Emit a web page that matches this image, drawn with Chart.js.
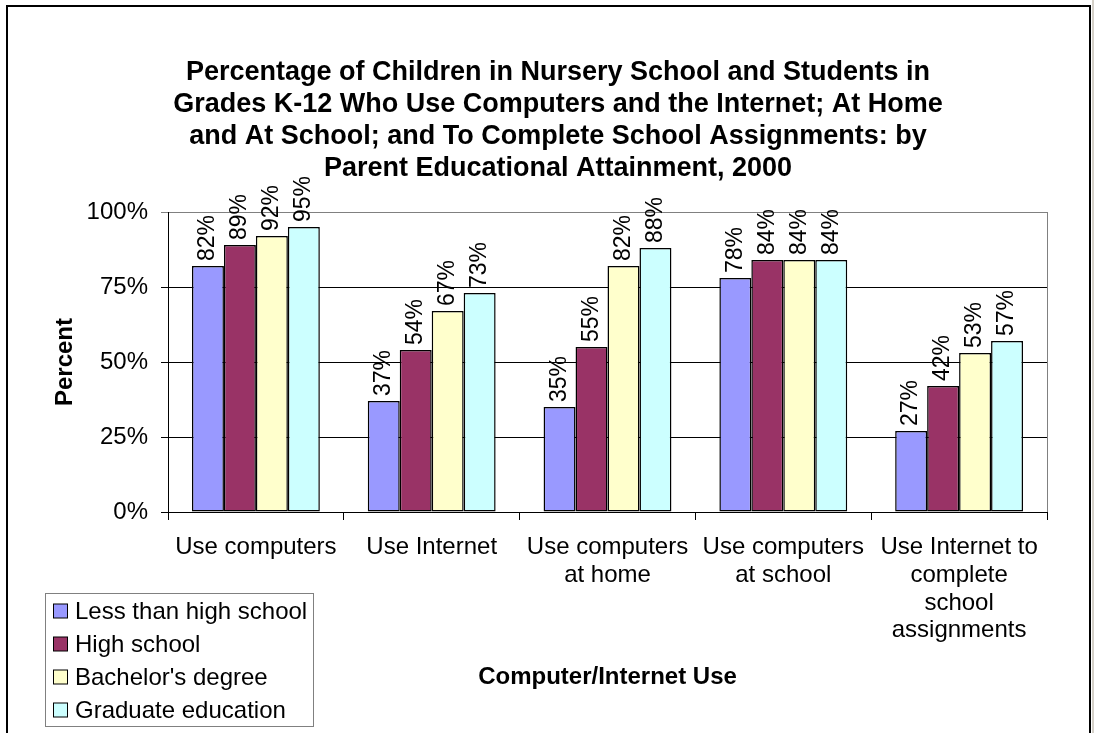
<!DOCTYPE html>
<html>
<head>
<meta charset="utf-8">
<title>Computer and Internet use by parent education, 2000</title>
<script src="https://cdn.jsdelivr.net/npm/chart.js@4.4.0/dist/chart.umd.min.js"></script>
<style>
  html, body { margin: 0; padding: 0; background: #fff; overflow: hidden; }
  #wrap { width: 1094px; height: 733px; position: relative; }
</style>
</head>
<body>
<div id="wrap"><canvas id="myChart"></canvas></div>
<script>
// data
const categories = [
  ["Use computers"],
  ["Use Internet"],
  ["Use computers", "at home"],
  ["Use computers", "at school"],
  ["Use Internet to", "complete", "school", "assignments"],
];
const seriesNames = ["Less than high school", "High school", "Bachelor's degree", "Graduate education"];
const lessThanHighSchool = [82, 37, 35, 78, 27];
const highSchool = [89, 54, 55, 84, 42];
const bachelorsDegree = [92, 67, 82, 84, 53];
const graduateEducation = [95, 73, 88, 84, 57];
const yTicks = [0, 25, 50, 75, 100];
const titleLines = [
  "Percentage of Children in Nursery School and Students in",
  "Grades K-12 Who Use Computers and the Internet; At Home",
  "and At School; and To Complete School Assignments: by",
  "Parent Educational Attainment, 2000",
];
const xTitle = "Computer/Internet Use";
const yTitle = "Percent";

const FONT = "'Liberation Sans', Arial, sans-serif";
const barColors = ["#9999FF", "#993366", "#FFFFCC", "#CCFFFF"];

// white page, black frame round the chart like the sheet it came from
const framePlugin = {
  id: "frame",
  beforeDraw(chart) {
    const ctx = chart.ctx;
    ctx.save();
    ctx.fillStyle = "#fff";
    ctx.fillRect(0, 0, chart.width, chart.height);
    ctx.fillStyle = "#d4d0c8";
    ctx.fillRect(1092, 0, 2, chart.height);
    ctx.strokeStyle = "#000";
    ctx.lineWidth = 2;
    ctx.strokeRect(7, 6, 1083, 740);
    ctx.restore();
  },
  afterDatasetsDraw(chart) {
    // gray right edge of plot area
    const a = chart.chartArea;
    const ctx = chart.ctx;
    ctx.save();
    ctx.strokeStyle = "#808080";
    ctx.lineWidth = 1;
    ctx.beginPath();
    ctx.moveTo(Math.round(a.right) + 0.5, a.top);
    ctx.lineTo(Math.round(a.right) + 0.5, a.bottom);
    ctx.stroke();
    ctx.restore();
  },
};

// rotated value labels above the bars
const valueLabels = {
  id: "valueLabels",
  afterDatasetsDraw(chart) {
    const ctx = chart.ctx;
    ctx.save();
    ctx.fillStyle = "#000";
    ctx.font = "23px " + FONT;
    ctx.textAlign = "left";
    ctx.textBaseline = "middle";
    chart.data.datasets.forEach((ds, i) => {
      chart.getDatasetMeta(i).data.forEach((bar, j) => {
        ctx.save();
        ctx.translate(bar.x, bar.y - 5);
        ctx.rotate(-Math.PI / 2);
        ctx.fillText(ds.data[j] + "%", 0, 0);
        ctx.restore();
      });
    });
    ctx.restore();
  },
};

// legend box in the lower left corner
const boxLegend = {
  id: "boxLegend",
  afterDraw(chart) {
    const ctx = chart.ctx;
    const left = 45.5, top = 593.5, w = 268, h = 133;
    ctx.save();
    ctx.fillStyle = "#fff";
    ctx.fillRect(left, top, w, h);
    ctx.strokeStyle = "#808080";
    ctx.lineWidth = 1;
    ctx.strokeRect(left, top, w, h);
    ctx.font = "24px " + FONT;
    ctx.textBaseline = "middle";
    ctx.textAlign = "left";
    chart.data.datasets.forEach((ds, i) => {
      const cy = 611 + i * 33;
      ctx.fillStyle = ds.backgroundColor;
      ctx.fillRect(53.5, cy - 7, 14, 14);
      ctx.strokeStyle = "#000";
      ctx.strokeRect(53.5, cy - 7, 14, 14);
      ctx.fillStyle = "#000";
      ctx.fillText(ds.label, 75, cy + 1);
    });
    ctx.restore();
  },
};

const seriesData = [lessThanHighSchool, highSchool, bachelorsDegree, graduateEducation];

const myChart = new Chart(document.getElementById("myChart"), {
  type: "bar",
  data: {
    labels: categories,
    datasets: seriesNames.map((name, i) => ({
      label: name,
      data: seriesData[i],
      backgroundColor: barColors[i],
      borderColor: "#000",
      borderWidth: 1.5,
      borderSkipped: false,
      barPercentage: 1,
      categoryPercentage: 0.7273,
    })),
  },
  options: {
    responsive: true,
    maintainAspectRatio: false,
    animation: false,
    events: [],
    layout: { padding: { top: 0, left: 69, right: 47, bottom: 0 } },
    plugins: {
      legend: { display: false },
      tooltip: { enabled: false },
      title: {
        display: true,
        text: titleLines,
        color: "#000",
        font: { family: FONT, size: 27, weight: "bold", lineHeight: 32 / 27 },
        padding: { top: 57, bottom: 27 },
      },
    },
    scales: {
      x: {
        grid: {
          display: true,
          drawOnChartArea: false,
          offset: true,
          color: "#000",
          tickLength: 8,
        },
        border: { color: "#000" },
        ticks: {
          color: "#000",
          maxRotation: 0,
          autoSkip: false,
          padding: 14,
          font: { family: FONT, size: 24, lineHeight: 1.15 },
        },
        title: {
          display: true,
          text: xTitle,
          color: "#000",
          font: { family: FONT, size: 24, weight: "bold", lineHeight: 1.2 },
          padding: { top: 0, bottom: 41 },
        },
        afterFit(scale) {
          scale.height = 221;
        },
      },
      y: {
        min: 0,
        max: 100,
        afterBuildTicks(scale) {
          scale.ticks = yTicks.map((v) => ({ value: v }));
        },
        grid: {
          color: (c) => (c.tick && c.tick.value === 100 ? "#808080" : "#000"),
          tickLength: 7,
        },
        border: { color: "#000" },
        ticks: {
          color: "#000",
          padding: 13,
          font: { family: FONT, size: 24 },
          callback: (v) => v + "%",
        },
        title: {
          display: true,
          text: yTitle,
          color: "#000",
          font: { family: FONT, size: 24, weight: "bold", lineHeight: 1.2 },
          padding: { top: -18, bottom: 0 },
        },
        afterFit(scale) {
          scale.width = 168 - 69;
        },
      },
    },
  },
  plugins: [framePlugin, valueLabels, boxLegend],
});
</script>
</body>
</html>
